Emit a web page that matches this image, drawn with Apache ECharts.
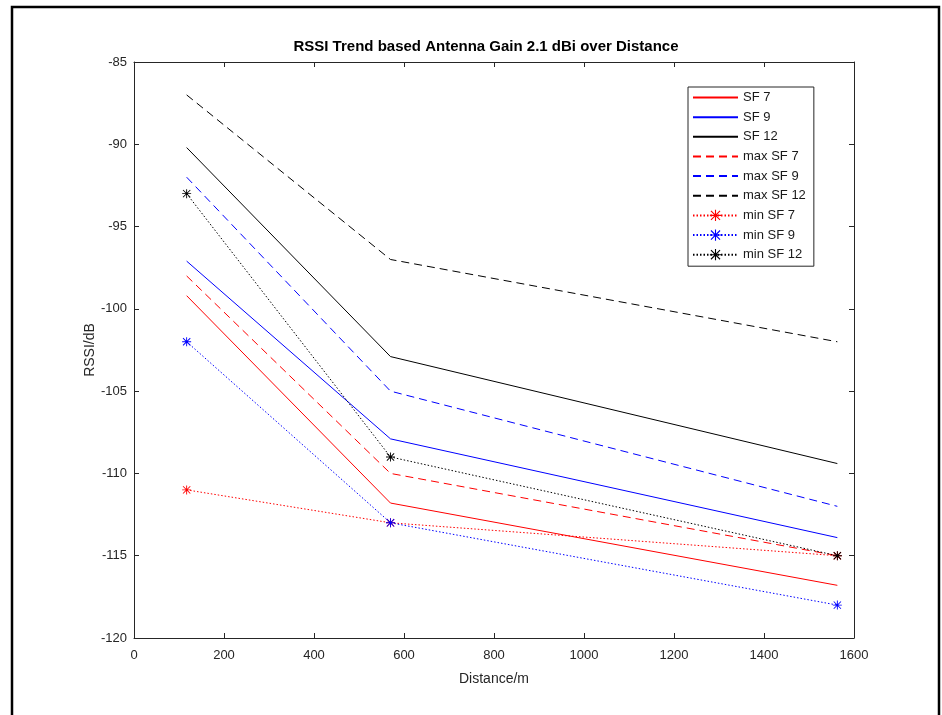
<!DOCTYPE html>
<html>
<head>
<meta charset="utf-8">
<script src="https://cdn.jsdelivr.net/npm/echarts@6/dist/echarts.min.js"></script>
<style>
html,body{margin:0;padding:0;background:#fff;}
#c{width:942px;height:715px;}
</style>
</head>
<body>
<div id="c"></div>
<script>
// ---- data ----
const distance = [117, 570, 1563];
const sf7 = [-99.2, -111.8, -116.8];
const sf9 = [-97.1, -107.9, -113.9];
const sf12 = [-90.2, -102.9, -109.4];
const maxSf7 = [-98, -110, -115];
const maxSf9 = [-92, -105, -112];
const maxSf12 = [-87, -97, -102];
const minSf7 = [-111, -113, -115];
const minSf9 = [-102, -113, -118];
const minSf12 = [-93, -109, -115];
const seriesNames = ['SF 7','SF 9','SF 12','max SF 7','max SF 9','max SF 12','min SF 7','min SF 9','min SF 12'];
const xTicks = {min: 0, max: 1600, interval: 200};
const yTicks = {min: -120, max: -85, interval: 5};

const star = 'path://M4.5,0L5.5,0L5.5,10L4.5,10Z M0,4.5L10,4.5L10,5.5L0,5.5Z M0.6,1.3L1.3,0.6L9.4,8.7L8.7,9.4Z M8.7,0.6L9.4,1.3L1.3,9.4L0.6,8.7Z';
const axisColor = '#262626';
const font = 'Liberation Sans, Arial, Helvetica, sans-serif';
const dashed = [8, 5];
const dotted = [1.5, 2];
const seriesColors = ['#ff0000', '#0000ff', '#000000', '#ff0000', '#0000ff', '#000000', '#ff0000', '#0000ff', '#000000'];
const seriesTypes = ['solid', 'solid', 'solid', dashed, dashed, dashed, dotted, dotted, dotted];
const markerSeries = [false, false, false, false, false, false, true, true, true];
const seriesValues = [sf7, sf9, sf12, maxSf7, maxSf9, maxSf12, minSf7, minSf9, minSf12];

function pts(arr){ return distance.map((d,i)=>[d, arr[i]]); }
function mk(i){
  const marker = markerSeries[i], color = seriesColors[i];
  return {
    name: seriesNames[i], type: 'line', data: pts(seriesValues[i]),
    xAxisIndex: 0, yAxisIndex: 0,
    symbol: marker ? star : 'none', symbolSize: 9, showSymbol: marker,
    itemStyle: {color: color},
    lineStyle: {color: color, width: 1, type: seriesTypes[i]},
    emphasis: {disabled: true}, animation: false
  };
}

const chart = echarts.init(document.getElementById('c'), null, {renderer: 'canvas'});
chart.setOption({
  backgroundColor: '#fff',
  animation: false,
  title: {
    text: 'RSSI Trend based Antenna Gain 2.1 dBi over Distance',
    left: 486, top: 39, padding: 0, textAlign: 'center',
    textStyle: {fontFamily: font, fontSize: 15, fontWeight: 'bold', color: '#000'}
  },
  grid: {left: 134, right: 88, top: 62, bottom: 77, containLabel: false},
  legend: {
    data: seriesNames.map((n, i) => markerSeries[i] ? {name: n} : {name: n, itemStyle: {opacity: 0}}),
    orient: 'vertical', left: 688, top: 87,
    padding: [4, 8, 5, 4],
    itemWidth: 45, itemHeight: 14, itemGap: 6.65,
    borderColor: axisColor, borderWidth: 1, backgroundColor: '#fff',
    textStyle: {fontFamily: font, fontSize: 13, color: '#1a1a1a'}
  },
  xAxis: [{
    type: 'value', position: 'bottom', min: xTicks.min, max: xTicks.max, interval: xTicks.interval,
    name: 'Distance/m', nameLocation: 'middle', nameGap: 34, nameMoveOverlap: false,
    nameTextStyle: {fontFamily: font, fontSize: 14, color: axisColor},
    axisLine: {show: true, onZero: false, lineStyle: {color: axisColor, width: 1}},
    axisTick: {show: true, inside: true, length: 5, lineStyle: {color: axisColor}},
    axisLabel: {fontFamily: font, fontSize: 13, color: axisColor, margin: 11, formatter: v => String(v)},
    splitLine: {show: false}
  }, {
    type: 'value', position: 'top', min: xTicks.min, max: xTicks.max, interval: xTicks.interval,
    axisLine: {show: true, onZero: false, lineStyle: {color: axisColor, width: 1}},
    axisTick: {show: true, inside: true, length: 5, lineStyle: {color: axisColor}},
    axisLabel: {show: false}, splitLine: {show: false}
  }],
  yAxis: [{
    type: 'value', position: 'left', min: yTicks.min, max: yTicks.max, interval: yTicks.interval,
    name: 'RSSI/dB', nameLocation: 'middle', nameGap: 37, nameMoveOverlap: false,
    nameTextStyle: {fontFamily: font, fontSize: 14, color: axisColor},
    axisLine: {show: true, onZero: false, lineStyle: {color: axisColor, width: 1}},
    axisTick: {show: true, inside: true, length: 5, lineStyle: {color: axisColor}},
    axisLabel: {fontFamily: font, fontSize: 13, color: axisColor, margin: 7, formatter: v => String(v)},
    splitLine: {show: false}
  }, {
    type: 'value', position: 'right', min: yTicks.min, max: yTicks.max, interval: yTicks.interval,
    axisLine: {show: true, onZero: false, lineStyle: {color: axisColor, width: 1}},
    axisTick: {show: true, inside: true, length: 5, lineStyle: {color: axisColor}},
    axisLabel: {show: false}, splitLine: {show: false}
  }],
  series: seriesNames.map((n, i) => mk(i)),
  graphic: [{
    type: 'rect', silent: true, z: 100,
    shape: {x: 12, y: 7, width: 927, height: 740},
    style: {fill: 'none', stroke: '#000', lineWidth: 2.5}
  }]
});
</script>
</body>
</html>
